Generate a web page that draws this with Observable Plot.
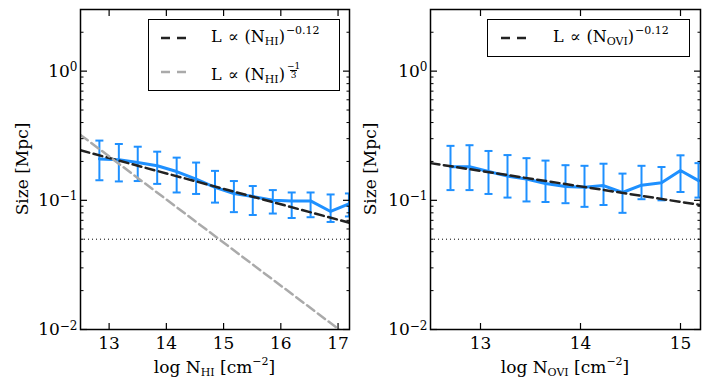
<!DOCTYPE html>
<html>
<head>
<meta charset="utf-8">
<script src="https://cdn.jsdelivr.net/npm/d3@7"></script>
<script src="https://cdn.jsdelivr.net/npm/@observablehq/plot@0.6"></script>
<style>
  body { margin: 0; background: #fff; font-family: "DejaVu Serif"; color: #000; }
  #wrap { position: relative; width: 710px; height: 392px; display: flex; }
  .panel { position: relative; width: 355px; height: 392px; }
  .panel svg { display: block; }
  .xlabel { position: absolute; top: 356px; text-align: center; font-size: 17px; line-height: 22px; white-space: nowrap; }
  .ylabel { position: absolute; width: 200px; height: 22px; line-height: 22px; text-align: center; font-size: 17px; transform: rotate(-90deg); white-space: nowrap; }
  .leg { position: absolute; border: 1.5px solid #000; background: #fff; box-sizing: border-box; font-size: 16px; }
  .row { position: absolute; white-space: nowrap; line-height: 20px; }
  .sample { position: absolute; }
  .op { margin: 0 6px; }
  .xlabel sub, .row sub { font-size: 11px; vertical-align: -3px; line-height: 0; }
  .xlabel sup { font-size: 11px; vertical-align: 8px; line-height: 0; }
  .row sup { font-size: 11px; vertical-align: 8px; line-height: 0; margin-left: 1px; }
  .frac { display: inline-flex; flex-direction: column; align-items: center; font-size: 9px; line-height: 8px; vertical-align: 11px; margin-left: 2px; }
  .frac .den { border-top: 1px solid #000; padding: 0 1px; }
</style>
</head>
<body>
<div id="wrap">
  <div class="panel" id="p1"></div>
  <div class="panel" id="p2"></div>
</div>
<script>
// ---- data ----
const hiX  = [12.83, 13.17, 13.50, 13.84, 14.18, 14.52, 14.85, 15.18, 15.51, 15.86, 16.19, 16.52, 16.87, 17.19];
const hiY  = [0.209, 0.206, 0.196, 0.185, 0.167, 0.146, 0.126, 0.113, 0.107, 0.100, 0.099, 0.099, 0.082, 0.094];
const hiLo = [0.143, 0.140, 0.141, 0.134, 0.115, 0.112, 0.096, 0.081, 0.077, 0.079, 0.073, 0.074, 0.068, 0.075];
const hiHi = [0.290, 0.273, 0.260, 0.238, 0.214, 0.196, 0.169, 0.141, 0.129, 0.120, 0.115, 0.115, 0.111, 0.113];

const oviX  = [12.70, 12.89, 13.08, 13.27, 13.46, 13.65, 13.85, 14.04, 14.23, 14.42, 14.61, 14.81, 15.00, 15.18];
const oviY  = [0.182, 0.182, 0.167, 0.154, 0.146, 0.135, 0.128, 0.126, 0.130, 0.115, 0.131, 0.137, 0.170, 0.142];
const oviLo = [0.120, 0.120, 0.112, 0.105, 0.098, 0.097, 0.095, 0.089, 0.092, 0.080, 0.102, 0.100, 0.116, 0.105];
const oviHi = [0.264, 0.267, 0.241, 0.224, 0.212, 0.203, 0.187, 0.185, 0.192, 0.161, 0.185, 0.181, 0.223, 0.194];

// power-law guide lines (end points)
const hiFitX = [12.5, 17.2];
const hiFitY = [0.244, 0.067];
const hiSteepX = [12.5, 17.2];
const hiSteepY = [0.321, 0.0087];
const oviFitX = [12.5, 15.2];
const oviFitY = [0.194, 0.092];

const refLevel = [0.05];

const hiXTicks = [13, 14, 15, 16, 17];
const oviXTicks = [13, 14, 15];
const yMajor = [0.01, 0.1, 1];
const yMinor = [0.02, 0.03, 0.04, 0.05, 0.06, 0.07, 0.08, 0.09, 0.2, 0.3, 0.4, 0.5, 0.6, 0.7, 0.8, 0.9, 2, 3];

const BLUE = "#1e90ff";
const DARK = "#222222";
const GRAY = "#aaaaaa";
const FONT = "DejaVu Serif";

const cap = { draw(ctx) { ctx.moveTo(-4, 0); ctx.lineTo(4, 0); } };

function toRows(xs, ys) { return xs.map((x, i) => ({ x, y: ys[i] })); }

function makePanel({ xs, ys, lo, hi, fits, xDomain, xTicks, marginLeft, marginRight }) {
  const pts = xs.map((x, i) => ({ x, y: ys[i], lo: lo[i], hi: hi[i] }));
  const svg = Plot.plot({
    width: 355, height: 392,
    marginLeft, marginRight, marginTop: 9, marginBottom: 63,
    x: { domain: xDomain },
    y: { type: "log", domain: [0.01, 3] },
    style: { fontFamily: FONT, fontSize: "17px", background: "transparent", color: "#000" },
    marks: [
      Plot.ruleY(refLevel, { stroke: "#000", strokeWidth: 1, strokeDasharray: "1,3" }),
      Plot.ruleX(pts, { x: "x", y1: "lo", y2: "hi", stroke: BLUE, strokeWidth: 2, clip: true }),
      Plot.dot(pts, { x: "x", y: "lo", symbol: cap, fill: "none", stroke: BLUE, strokeWidth: 2, clip: true }),
      Plot.dot(pts, { x: "x", y: "hi", symbol: cap, fill: "none", stroke: BLUE, strokeWidth: 2, clip: true }),
      Plot.line(pts, { x: "x", y: "y", stroke: BLUE, strokeWidth: 3, clip: true }),
      ...fits.map(f => Plot.line(toRows(f.x, f.y), { x: "x", y: "y", stroke: f.color, strokeWidth: 2.5, strokeDasharray: "9,4.5", clip: true })),
      Plot.axisX({ ticks: xTicks, tickSize: 0, tickPadding: 7, tickFormat: d => String(d), label: null, fontSize: 17 }),
      Plot.axisX({ ticks: xTicks, anchor: "bottom", tickSize: -6, fill: "none", label: null, strokeWidth: 1.2 }),
      Plot.axisX({ ticks: xTicks, anchor: "top", tickSize: -6, fill: "none", label: null, strokeWidth: 1.2 }),
      Plot.axisY({ ticks: yMajor, tickSize: 0, tickPadding: 3, tickFormat: d => "10^" + Math.round(Math.log10(d)), label: null, fontSize: 17 }),
      Plot.axisY({ ticks: yMajor, anchor: "left", tickSize: -7, fill: "none", label: null, strokeWidth: 1.2 }),
      Plot.axisY({ ticks: yMajor, anchor: "right", tickSize: -7, fill: "none", label: null, strokeWidth: 1.2 }),
      Plot.axisY({ ticks: yMinor, anchor: "left", tickSize: -3.5, fill: "none", label: null, strokeWidth: 1 }),
      Plot.axisY({ ticks: yMinor, anchor: "right", tickSize: -3.5, fill: "none", label: null, strokeWidth: 1 }),
      Plot.frame({ stroke: "#000", strokeWidth: 1.5 })
    ]
  });
  d3.select(svg).selectAll("text").each(function () {
    const m = this.textContent.match(/^10\^(.+)$/);
    if (m) {
      const s = d3.select(this);
      s.text(null);
      s.append("tspan").text("10");
      s.append("tspan").attr("dy", "-0.45em").attr("font-size", "12px").text(m[1].replace("-", "\u2212"));
    }
  });
  return svg;
}

const p1 = document.getElementById("p1");
const p2 = document.getElementById("p2");

p1.appendChild(makePanel({
  xs: hiX, ys: hiY, lo: hiLo, hi: hiHi,
  fits: [
    { x: hiFitX, y: hiFitY, color: DARK },
    { x: hiSteepX, y: hiSteepY, color: GRAY }
  ],
  xDomain: [12.5, 17.2], xTicks: hiXTicks, marginLeft: 80, marginRight: 6
}));
p2.appendChild(makePanel({
  xs: oviX, ys: oviY, lo: oviLo, hi: oviHi,
  fits: [{ x: oviFitX, y: oviFitY, color: DARK }],
  xDomain: [12.5, 15.2], xTicks: oviXTicks, marginLeft: 75, marginRight: 10
}));

function sampleSvg(color) {
  return `<svg width="28" height="6"><line x1="0" y1="3" x2="27" y2="3" stroke="${color}" stroke-width="2.5" stroke-dasharray="9,7"/></svg>`;
}

p1.insertAdjacentHTML("beforeend", `
  <div class="xlabel" style="left:80px;width:269px;">log N<sub>HI</sub> [cm<sup>\u22122</sup>]</div>
  <div class="ylabel" style="left:-78px;top:158px;">Size [Mpc]</div>
  <div class="leg" style="left:148px;top:19px;width:192px;height:72px;">
    <div class="sample" style="left:12px;top:15px;">${sampleSvg(DARK)}</div>
    <div class="row" style="left:62px;top:7px;">L<span class="op">\u221D</span>(N<sub>HI</sub>)<sup>\u22120.12</sup></div>
    <div class="sample" style="left:12px;top:49px;">${sampleSvg(GRAY)}</div>
    <div class="row" style="left:62px;top:42px;">L<span class="op">\u221D</span>(N<sub>HI</sub>)<span class="frac"><span>\u22121</span><span class="den">3</span></span></div>
  </div>
`);
p2.insertAdjacentHTML("beforeend", `
  <div class="xlabel" style="left:75px;width:270px;">log N<sub>OVI</sub> [cm<sup>\u22122</sup>]</div>
  <div class="ylabel" style="left:-85px;top:158px;">Size [Mpc]</div>
  <div class="leg" style="left:132px;top:19px;width:203px;height:38px;">
    <div class="sample" style="left:13px;top:15px;">${sampleSvg(DARK)}</div>
    <div class="row" style="left:65px;top:7px;">L<span class="op">\u221D</span>(N<sub>OVI</sub>)<sup>\u22120.12</sup></div>
  </div>
`);
</script>
</body>
</html>
